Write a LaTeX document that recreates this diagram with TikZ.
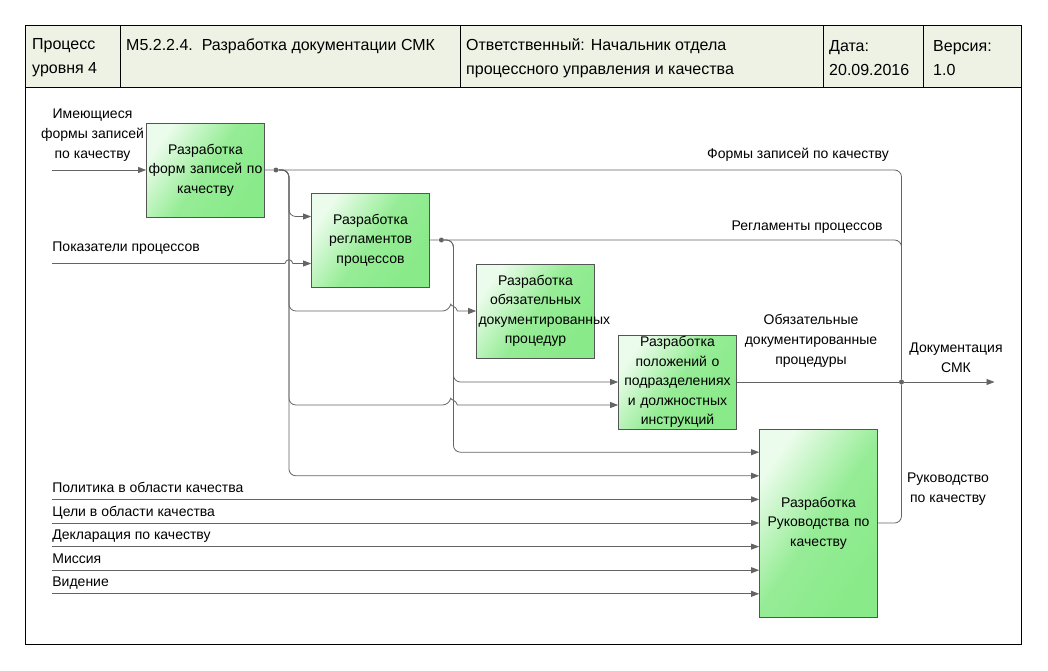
\documentclass[tikz,border=0pt]{standalone}
\usepackage{fontspec}
\setmainfont{Liberation Sans}
\usepackage{tikz}
\usetikzlibrary{shapes,arrows.meta,calc}

\definecolor{hdrfill}{RGB}{238,242,228}
\definecolor{boxgreen}{RGB}{136,234,136}
\definecolor{boxlight}{RGB}{236,252,236}
\definecolor{boxedge}{RGB}{85,85,85}
\definecolor{linegray}{RGB}{100,100,100}

\tikzstyle{link} = [draw=linegray, line width=0.8pt, rounded corners=7pt]
\tikzstyle{line} = [link, -{Triangle[length=8pt,width=6pt]}]
\tikzstyle{proc} = [rectangle, draw=boxedge, line width=0.8pt, top color=boxlight, bottom color=boxgreen, middle color=boxgreen!88!white, shading angle=55, minimum width=118pt, minimum height=94pt, text width=114pt, inner sep=0pt, text centered, font=\fontsize{14}{19.5}\selectfont]
\tikzstyle{lbl} = [inner sep=0pt, align=center, font=\fontsize{14}{20}\selectfont]
\tikzstyle{hdr} = [inner sep=0pt, align=left, anchor=west, font=\fontsize{16}{24}\selectfont]
\tikzstyle{dot} = [circle, fill=linegray, inner sep=0pt, minimum size=5pt]

\begin{document}
\begin{tikzpicture}[x=1pt, y=-1pt]
\useasboundingbox (0,0) rectangle (1048,670);

% frame and header
\draw [line width=1pt, fill=hdrfill] (25.5,25.5) rectangle (1021.5,87);
\draw [line width=1pt] (25.5,87) -- (25.5,644) -- (1021.5,644) -- (1021.5,87);
\draw [line width=0.8pt] (120,25.5) -- (120,87);
\draw [line width=0.8pt] (460,25.5) -- (460,87);
\draw [line width=0.8pt] (823,25.5) -- (823,87);
\draw [line width=0.8pt] (923,25.5) -- (923,87);
\node [hdr] (hd_level) at (32,58) {Процесс\\уровня 4};
\node [hdr] (hd_code) at (126,46) {М5.2.2.4.~~Разработка документации СМК};
\node [hdr] (hd_owner) at (466,58) {Ответственный: Начальник отдела\\процессного управления и качества};
\node [hdr] (hd_date) at (829,58) {Дата:\\20.09.2016};
\node [hdr] (hd_ver) at (933,58) {Версия:\\1.0};

% activities
\node [proc] (b1) at (205.5,170) {Разработка\\форм записей по\\качеству};
\node [proc, right of=b1, node distance=165pt, yshift=-70pt] (b2) {Разработка\\регламентов\\процессов};
\node [proc, right of=b2, node distance=165pt, yshift=-71pt] (b3) {Разработка\\обязательных\\документированных\\процедур};
\node [proc, right of=b3, node distance=142pt, yshift=-71pt] (b4) {Разработка\\положений о\\подразделениях\\и должностных\\инструкций};
\node [proc, right of=b4, node distance=141pt, yshift=-141pt, minimum height=188pt] (b5) {Разработка\\Руководства по\\качеству};

% junctions
\node [dot] (d1) at ($(b1.east)+(11,0)$) {};
\node [dot] (d2) at ($(b2.east)+(11.5,0)$) {};
\coordinate (v1) at ($(d1)+(13,0)$);
\coordinate (v2) at ($(d2)+(12,0)$);
\coordinate (busx) at (901.5,0);
\node [dot] (bus) at (busx |- b4.east) {};
\coordinate (out) at ($(bus)+(93,0)$);
\coordinate (lft) at (52,0);

% inputs from the left
\path [line] (lft |- b1.west) -- (b1.west);
\node [lbl] (l_forms_in) at (92.5,135) {Имеющиеся\\формы записей\\по качеству};

\coordinate (p2b) at ([yshift=-23.5pt]b2.west);
\coordinate (c1) at (v1 |- p2b);
\path [line, sharp corners] (lft |- p2b) node [lbl, anchor=base west, yshift=12pt] (l_pok) {Показатели процессов} -- ([xshift=-4pt]c1) .. controls ([xshift=-3pt,yshift=5pt]c1) and ([xshift=3pt,yshift=5pt]c1) .. ([xshift=4pt]c1) -- (p2b);

% outputs to the bus
\path [link] (b1.east) -- (d1) -| (bus);
\node [lbl] (l_forms_out) at (798,155) {Формы записей по качеству};
\path [link] (b2.east) -- (d2) -| (bus);
\node [lbl] (l_regl) at (807,227) {Регламенты процессов};
\path [link] (b4.east) -- (bus);
\node [lbl] (l_obyaz) at (811,341) {Обязательные\\документированные\\процедуры};
\path [link] (b5.east) -| (bus);
\node [lbl] (l_ruk) at (948,489) {Руководство\\по качеству};
\path [line] (bus) -- (out);
\node [lbl] (l_doc) at (956,358) {Документация\\СМК};

% branches of the forms
\path [line] (d1) -- (v1) |- ([yshift=23.5pt]b2.west);
\coordinate (c2) at (v2 |- b3.west);
\path [line] (d1) -- (v1) |- ([xshift=-4pt]c2) [sharp corners] .. controls ([xshift=-3pt,yshift=5pt]c2) and ([xshift=3pt,yshift=5pt]c2) .. ([xshift=4pt]c2) -- (b3.west);
\coordinate (p4b) at ([yshift=-23pt]b4.west);
\coordinate (c3) at (v2 |- p4b);
\path [line] (d1) -- (v1) |- ([xshift=-4pt]c3) [sharp corners] .. controls ([xshift=-3pt,yshift=5pt]c3) and ([xshift=3pt,yshift=5pt]c3) .. ([xshift=4pt]c3) -- (p4b);
\path [line] (d1) -- (v1) |- ([yshift=47.2pt]b5.west);

% branches of the regulations
\path [line] (d2) -- (v2) |- (b4.west);
\path [line] (d2) -- (v2) |- ([yshift=70.8pt]b5.west);

% inputs of the manual
\coordinate (p5c) at ([yshift=23.6pt]b5.west);
\coordinate (p5d) at (b5.west);
\coordinate (p5e) at ([yshift=-23.6pt]b5.west);
\coordinate (p5f) at ([yshift=-47.2pt]b5.west);
\coordinate (p5g) at ([yshift=-70.8pt]b5.west);
\path [line] (lft |- p5c) node [lbl, anchor=base west, yshift=7pt] (l_pol) {Политика в области качества} -- (p5c);
\path [line] (lft |- p5d) node [lbl, anchor=base west, yshift=7pt] (l_cel) {Цели в области качества} -- (p5d);
\path [line] (lft |- p5e) node [lbl, anchor=base west, yshift=7pt] (l_decl) {Декларация по качеству} -- (p5e);
\path [line] (lft |- p5f) node [lbl, anchor=base west, yshift=7pt] (l_mis) {Миссия} -- (p5f);
\path [line] (lft |- p5g) node [lbl, anchor=base west, yshift=7pt] (l_vid) {Видение} -- (p5g);
\end{tikzpicture}
\end{document}
